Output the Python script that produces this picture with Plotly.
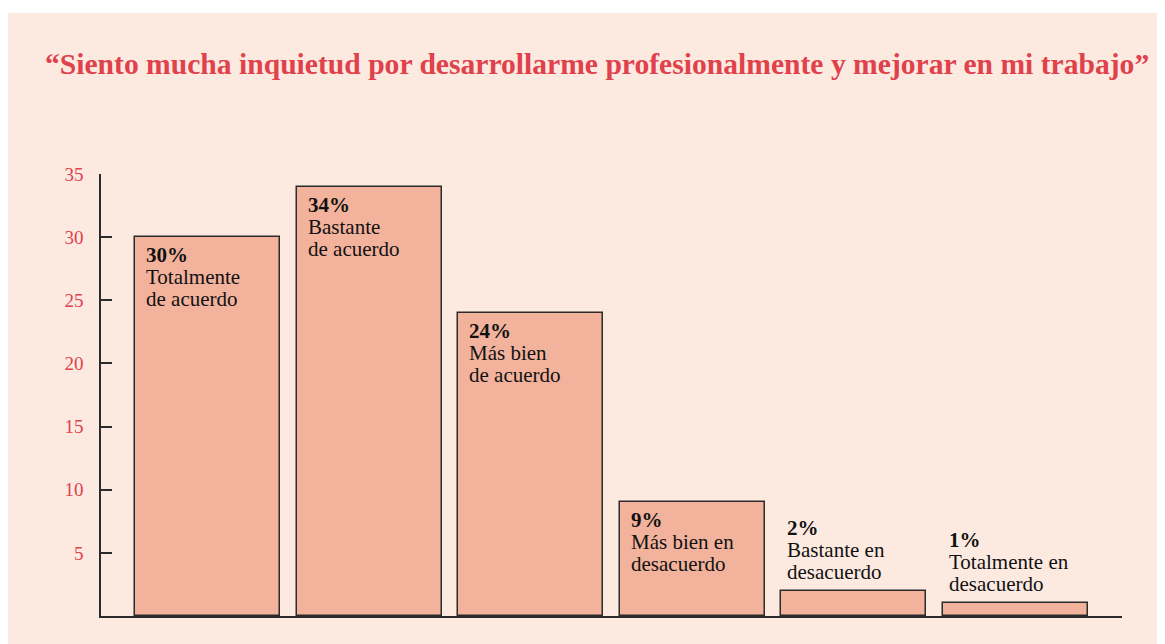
import plotly.graph_objects as go

categories = ["Totalmente de acuerdo", "Bastante de acuerdo", "Más bien de acuerdo",
              "Más bien en desacuerdo", "Bastante en desacuerdo", "Totalmente en desacuerdo"]
values = [30, 34, 24, 9, 2, 1]
pct_labels = ["30%", "34%", "24%", "9%", "2%", "1%"]
line1 = ["Totalmente", "Bastante", "Más bien", "Más bien en", "Bastante en", "Totalmente en"]
line2 = ["de acuerdo", "de acuerdo", "de acuerdo", "desacuerdo", "desacuerdo", "desacuerdo"]
y_ticks = [5, 10, 15, 20, 25, 30, 35]
title_text = "“Siento mucha inquietud por desarrollarme profesionalmente y mejorar en mi trabajo”"

FONT = "Liberation Serif"
BAR_W = 0.897
xs = list(range(len(categories)))

# plot area in figure px (page offset of 8px removed)
L, T, R, B = 93, 166, 1114, 608
PW, PH = R - L, B - T

fig = go.Figure()
fig.add_trace(go.Bar(
    x=xs, y=values, width=BAR_W,
    marker=dict(color="#F2B29C", line=dict(color="#2b2b2b", width=1.5)),
    hoverinfo="skip", showlegend=False,
))

annotations = []
for i, v in enumerate(values):
    inside = v >= 5
    if inside:
        baselines = [-27, -49, -71]
        dx = 9
    else:
        baselines = [54, 32, 10]
        dx = 4
    texts = [f"<b>{pct_labels[i]}</b>", line1[i], line2[i]]
    for t, b in zip(texts, baselines):
        annotations.append(dict(
            x=i - BAR_W / 2, y=v, xref="x", yref="y",
            text=t, showarrow=False, xanchor="left", yanchor="bottom",
            xshift=dx, yshift=b - 5,
            font=dict(family=FONT, size=21, color="#111111"),
        ))

annotations.append(dict(
    x=(597 - 8 - L) / PW, y=(B - (64 - 8)) / PH, xref="paper", yref="paper",
    text=f"<b>{title_text}</b>",
    showarrow=False, xanchor="center", yanchor="middle",
    font=dict(family=FONT, size=29.6, color="#E0414B"),
))

fig.update_layout(
    width=1165, height=644,
    margin=dict(l=L, r=1165 - R, t=T, b=644 - B),
    paper_bgcolor="white", plot_bgcolor="rgba(0,0,0,0)",
    annotations=annotations,
    shapes=[dict(type="rect", xref="paper", yref="paper",
                 x0=-L / PW - 0.01, x1=1.2, y0=-0.3, y1=(B - 5) / PH,
                 fillcolor="#FCEAE1", line=dict(width=0), layer="below")],
    xaxis=dict(range=[-0.659, 5.659], showticklabels=False, ticks="", showgrid=False,
               zeroline=False, showline=True, linecolor="#2b2b2b", linewidth=1.5, fixedrange=True),
    yaxis=dict(range=[0, 35], tickvals=y_ticks, ticktext=[str(t) for t in y_ticks],
               ticks="inside", ticklen=11, tickwidth=1.5, tickcolor="#2b2b2b",
               showgrid=False, zeroline=False, showline=True, linecolor="#2b2b2b", linewidth=1.5,
               tickfont=dict(family=FONT, size=19, color="#E0414B"), ticklabelstandoff=12,
               fixedrange=True),
    bargap=0,
)

fig.write_html("out.html")
